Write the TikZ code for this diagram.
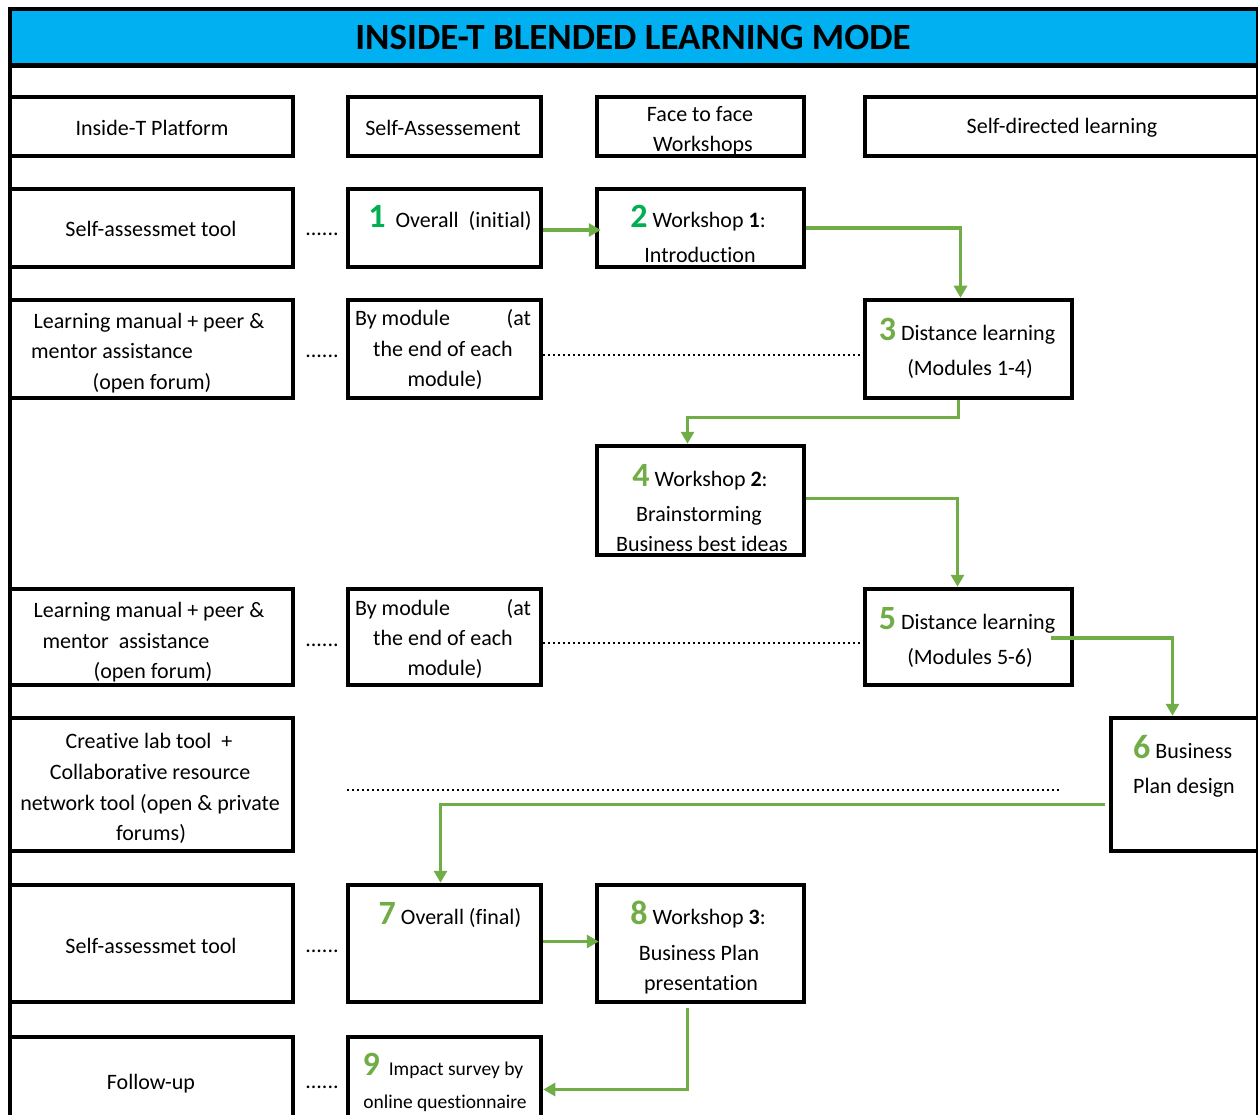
\documentclass[tikz,border=0pt]{standalone}
\usepackage{fontspec}
\setmainfont{Carlito}[Ligatures=NoCommon]
\usepackage{tikz}
\usetikzlibrary{arrows.meta,positioning}
\definecolor{titleblue}{HTML}{00B0F0}
\definecolor{stepgreen}{HTML}{70AD47}
\definecolor{firstgreen}{HTML}{00B050}
\newcommand{\stepno}[2][stepgreen]{\textcolor{#1}{\fontsize{34}{34}\selectfont\bfseries #2}}
\tikzset{
  cell/.style={draw=black, line width=4.5pt, inner sep=0pt},
  colA/.style={minimum width=283pt},
  colB/.style={minimum width=193pt},
  colC/.style={minimum width=207pt},
  txt/.style={anchor=base, inner sep=0pt, font=\fontsize{22}{26}\selectfont},
  dots/.style={draw=black, line width=1.6pt, dash pattern=on 1.6pt off 3.4pt},
  flow/.style={draw=stepgreen, line width=3.5pt, -{Triangle[length=12pt,width=13pt]}}
}

\begin{document}
\begin{tikzpicture}[x=1pt,y=-1pt]
\useasboundingbox (0,0) rectangle (1258,1115);
\fill[titleblue] (10,11) rectangle (1258,64);
\draw[line width=4pt] (8,9.5) -- (1258,9.5);
\draw[line width=5pt] (8,65.5) -- (1258,65.5);
\draw[line width=4pt] (9.5,8) -- (9.5,1115);
\draw[line width=2pt] (1257,9.5) -- (1257,1115);
\node[anchor=base, inner sep=0pt, font=\fontsize{37}{40}\selectfont\bfseries] (title) at (633,50) {INSIDE-T BLENDED LEARNING MODE};

\node[cell,colA,minimum height=59pt] (plat) at (151.5,126.5) {};
\node[cell,colB,minimum height=59pt] (selfas) at (444.5,126.5) {};
\node[cell,colC,minimum height=59pt] (face) at (700.5,126.5) {};
\node[cell,minimum width=397pt,minimum height=59pt] (selfdir) at (1063.5,126.5) {};
\node[txt] (t-plat) at (152,136) {Inside-T Platform};
\node[txt] (t-selfas) at (443,136) {Self-Assessement};
\node[txt] (t-face) at (700,122) {Face to face};
\node[txt] (t-face2) at (703,152) {Workshops};
\node[txt] (t-selfdir) at (1062,134) {Self-directed learning};

\node[cell,colA,minimum height=78pt] (tool1) at (151.5,228) {};
\node[cell,colB,minimum height=78pt] (overall1) at (444.5,228) {};
\node[cell,colC,minimum height=78pt] (ws1) at (700.5,228) {};
\node[txt] (t-tool1) at (151,237) {Self-assessmet tool};
\node[txt] (d-tool1) at (322,236) {......};
\node[txt] (t-overall1) at (450,228) {\stepno[firstgreen]{1}\ \ Overall\ \ (initial)};
\node[txt] (t-ws1) at (698,228) {\stepno[firstgreen]{2} Workshop \textbf{1}:};
\node[txt] (t-ws1b) at (700,263) {Introduction};

\node[cell,colA,minimum height=98pt] (manual1) at (151.5,349) {};
\node[cell,colB,minimum height=98pt] (bymod1) at (444.5,349) {};
\node[cell,colC,minimum height=98pt] (dist1) at (968.5,349) {};
\node[txt] (t-manual1a) at (149,328) {Learning manual + peer \&};
\node[txt] (t-manual1b) at (112,358) {mentor assistance};
\node[txt] (t-manual1c) at (152,389) {(open forum)};
\node[txt] (d-manual1) at (322,357) {......};
\node[txt] (t-bymod1a) at (443,326) {\makebox[176pt]{By module\hfill(at}};
\node[txt] (t-bymod1b) at (443,356) {the end of each};
\node[txt] (t-bymod1c) at (445,386) {module)};
\node[txt] (t-dist1a) at (967,340) {\stepno{3} Distance learning};
\node[txt] (t-dist1b) at (970,375) {(Modules 1-4)};

\node[cell,colC,minimum height=109pt] (ws2) at (700.5,500.5) {};
\node[txt] (t-ws2a) at (700,486) {\stepno{4} Workshop \textbf{2}:};
\node[txt] (t-ws2b) at (699,521) {Brainstorming};
\node[txt] (t-ws2c) at (702,551) {Business best ideas};

\node[cell,colA,minimum height=96pt] (manual2) at (151.5,637) {};
\node[cell,colB,minimum height=96pt] (bymod2) at (444.5,637) {};
\node[cell,colC,minimum height=96pt] (dist2) at (968.5,637) {};
\node[txt] (t-manual2a) at (149,617) {Learning manual + peer \&};
\node[txt] (t-manual2b) at (126,648) {mentor\ \ assistance};
\node[txt] (t-manual2c) at (153,678) {(open forum)};
\node[txt] (d-manual2) at (322,646) {......};
\node[txt] (t-bymod2a) at (443,615) {\makebox[176pt]{By module\hfill(at}};
\node[txt] (t-bymod2b) at (443,645) {the end of each};
\node[txt] (t-bymod2c) at (445,675) {module)};
\node[txt] (t-dist2a) at (967,629) {\stepno{5} Distance learning};
\node[txt] (t-dist2b) at (970,664) {(Modules 5-6)};

\node[cell,colA,minimum height=133pt] (creative) at (151.5,784.5) {};
\node[cell,minimum width=151pt,minimum height=133pt] (bplan) at (1186.5,784.5) {};
\node[txt] (t-creative1) at (149,748) {Creative lab tool\ \ +};
\node[txt] (t-creative2) at (150,779) {Collaborative resource};
\node[txt] (t-creative3) at (150,810) {network tool (open \& private};
\node[txt] (t-creative4) at (151,840) {forums)};
\node[txt,anchor=base west] (t-bplan1) at (1133,758) {\stepno{6} Business};
\node[txt,anchor=base west] (t-bplan2) at (1133,793) {Plan design};

\node[cell,colA,minimum height=117pt] (tool2) at (151.5,943.5) {};
\node[cell,colB,minimum height=117pt] (overall2) at (444.5,943.5) {};
\node[cell,colC,minimum height=117pt] (ws3) at (700.5,943.5) {};
\node[txt] (t-tool2) at (151,953) {Self-assessmet tool};
\node[txt] (d-tool2) at (322,952) {......};
\node[txt] (t-overall2) at (450,924) {\stepno{7} Overall (final)};
\node[txt] (t-ws3a) at (698,924) {\stepno{8} Workshop \textbf{3}:};
\node[txt] (t-ws3b) at (699,960) {Business Plan};
\node[txt] (t-ws3c) at (701,990) {presentation};

\node[cell,colA,minimum height=93pt] (follow) at (151.5,1083.5) {};
\node[cell,colB,minimum height=93pt] (survey) at (444.5,1083.5) {};
\node[txt] (t-follow) at (151,1089) {Follow-up};
\node[txt] (d-follow) at (322,1088) {......};
\node[txt,font=\fontsize{19.5}{22}\selectfont] (t-survey1) at (443,1075) {\stepno{9}\ \ Impact survey by};
\node[txt,font=\fontsize{19.5}{22}\selectfont] (t-survey2) at (445,1108) {online questionnaire};

\coordinate (lab-l) at (347,790);
\coordinate (lab-r) at (1060,790);
\draw[dots] ([yshift=-6pt]bymod1.east) -- ([yshift=-6pt]dist1.west);
\draw[dots] ([yshift=-6pt]bymod2.east) -- ([yshift=-6pt]dist2.west);
\draw[dots] (lab-l) -- (lab-r);

\draw[flow] ([yshift=-2pt]overall1.east) -- ([xshift=6pt,yshift=-2pt]ws1.west);
\draw[flow] (ws1.east) -| ([xshift=-8pt]dist1.north);
\draw[flow] ([xshift=-10pt]dist1.south) -- ++(0,17) -| ([xshift=-13pt]ws2.north);
\draw[flow] ([yshift=2pt]ws2.east) -| ([xshift=-11pt]dist2.north);
\draw[flow] ([xshift=-23pt,yshift=-1pt]dist2.east) -| ([xshift=-14pt]bplan.north);
\draw[flow] ([xshift=-4pt,yshift=-20pt]bplan.west) -| ([xshift=-4pt]overall2.north);
\draw[flow] ([yshift=2pt]overall2.east) -- ([xshift=4pt,yshift=2pt]ws3.west);
\draw[flow] ([xshift=-13pt,yshift=-4pt]ws3.south) |- ([yshift=-6pt]survey.east);

\end{tikzpicture}
\end{document}
